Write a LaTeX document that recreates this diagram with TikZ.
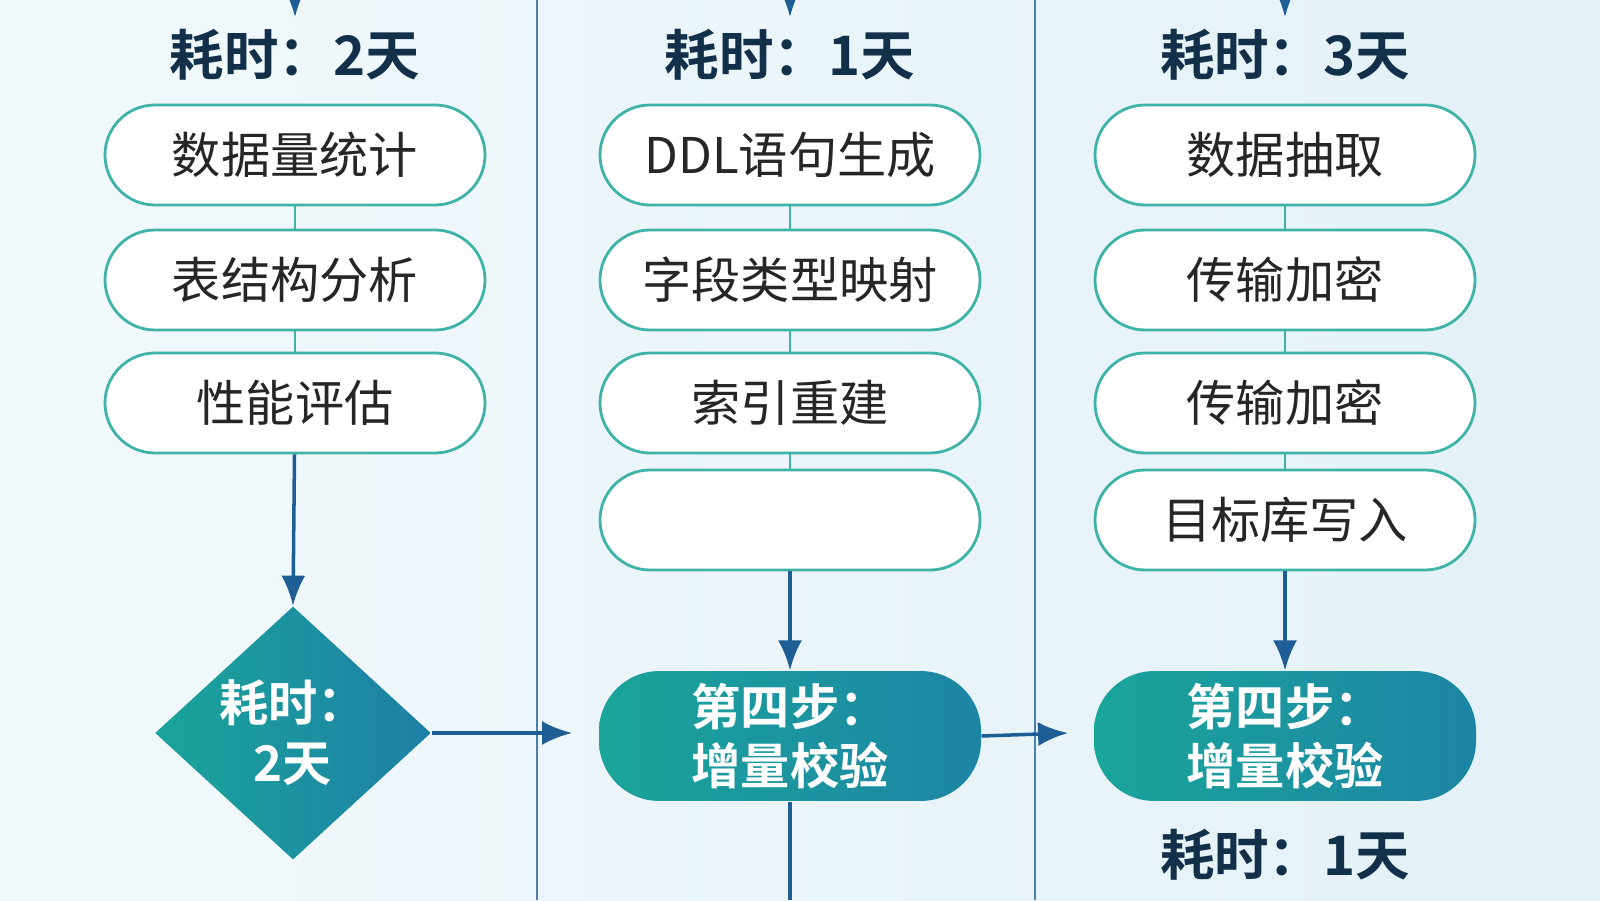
\documentclass[tikz,border=0pt]{standalone}
\usepackage{fontspec}
\setmainfont{Noto Sans CJK SC}
\newfontfamily\cjkb{Noto Sans CJK SC Bold}
\usetikzlibrary{arrows.meta,shapes.geometric}
\definecolor{navy}{HTML}{12304A}
\definecolor{teal1}{HTML}{3FB3A8}
\definecolor{fillA}{HTML}{1AA59A}
\definecolor{fillB}{HTML}{1E7FA6}
\definecolor{arr}{HTML}{1F5E95}
\definecolor{bgA}{HTML}{F2F9FC}
\definecolor{bgB}{HTML}{E3F1F7}
\tikzset{
 pill/.style={draw=teal1,line width=0.8pt,fill=white,rounded corners=0.5cm,minimum width=3.8cm,minimum height=1cm,font=\fontsize{14}{17}\selectfont,text=black!85},
 fpill/.style={rounded corners=0.6cm,minimum width=3.82cm,minimum height=1.22cm,font=\cjkb\fontsize{14}{17}\selectfont,text=white,align=center,shading=axis,left color=fillA,right color=fillB!85!fillA},
 tlabel/.style={font=\cjkb\fontsize{15.5}{19}\selectfont,text=navy},
 link/.style={draw=teal1,line width=0.8pt},
 arrow/.style={draw=arr,line width=1pt,-{Latex[length=3mm,width=2.4mm]}},
 divider/.style={draw=arr!80,line width=0.8pt}
}
\begin{document}
\begin{tikzpicture}[x=1cm,y=1cm]
\shade[left color=bgA,right color=bgB] (0,0) rectangle (16,9);
\useasboundingbox (0,0) rectangle (16,9);
\draw[divider] (5.37,0) -- (5.37,9);
\draw[divider] (10.35,0) -- (10.35,9);
% column 1
\coordinate (t1) at (2.95,9);
\node[tlabel] (h1) at (2.95,8.45) {耗时：2天};
\draw[arrow] (t1) -- (h1.north);
\node[pill] (a1) at (2.95,7.45) {数据量统计};
\node[pill] (a2) at (2.95,6.2) {表结构分析};
\node[pill] (a3) at (2.95,4.97) {性能评估};
\draw[link] (a1) -- (a2); \draw[link] (a2) -- (a3);
\node[diamond,minimum width=2.76cm,minimum height=2.44cm,inner sep=0pt,shading=axis,left color=fillA,right color=fillB,font=\cjkb\fontsize{14}{17}\selectfont,text=white,align=center] (d1) at (2.93,1.67) {耗时：\\2天};
\draw[arrow] (a3) -- (d1.north);
% column 2
\coordinate (t2) at (7.9,9);
\node[tlabel] (h2) at (7.9,8.45) {耗时：1天};
\draw[arrow] (t2) -- (h2.north);
\node[pill] (b1) at (7.9,7.45) {DDL语句生成};
\node[pill] (b2) at (7.9,6.2) {字段类型映射};
\node[pill] (b3) at (7.9,4.97) {索引重建};
\node[pill] (b4) at (7.9,3.8) {};
\draw[link] (b1) -- (b2); \draw[link] (b2) -- (b3); \draw[link] (b3) -- (b4);
\node[fpill] (s2) at (7.9,1.64) {第四步：\\增量校验};
\draw[arrow] (b4) -- (s2);
\coordinate (e2) at (7.9,0);
\draw[draw=arr,line width=1pt] (s2) -- (e2);
\coordinate (m2) at (5.72,1.67);
\draw[arrow] (d1.east) -- (m2);
% column 3
\coordinate (t3) at (12.85,9);
\node[tlabel] (h3) at (12.85,8.45) {耗时：3天};
\draw[arrow] (t3) -- (h3.north);
\node[pill] (c1) at (12.85,7.45) {数据抽取};
\node[pill] (c2) at (12.85,6.2) {传输加密};
\node[pill] (c3) at (12.85,4.97) {传输加密};
\node[pill] (c4) at (12.85,3.8) {目标库写入};
\draw[link] (c1) -- (c2); \draw[link] (c2) -- (c3); \draw[link] (c3) -- (c4);
\node[fpill] (s3) at (12.85,1.64) {第四步：\\增量校验};
\draw[arrow] (c4) -- (s3);
\coordinate (m3) at (10.68,1.67);
\draw[arrow] (s2.east) -- (m3);
\node[tlabel] (f3) at (12.85,0.45) {耗时：1天};
\end{tikzpicture}
\end{document}
